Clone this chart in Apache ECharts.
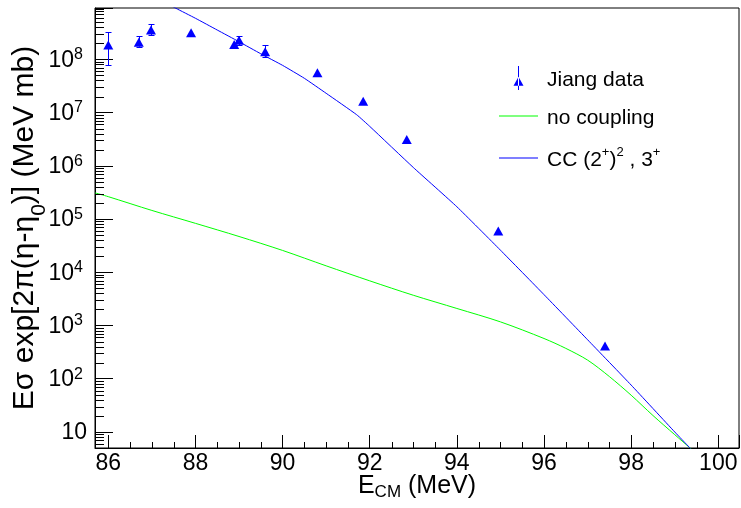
<!DOCTYPE html>
<html><head><meta charset="utf-8">
<script src="https://cdn.jsdelivr.net/npm/echarts@6/dist/echarts.min.js"></script>
<style>html,body{margin:0;padding:0;background:#fff}#c{width:741px;height:508px}</style>
</head><body><div id="c"></div>
<script>
// axis ranges
const xRange = [85.695, 100.475];
const yRange = [5, 9.2e8];

// Jiang data (E_CM in MeV, E*sigma*exp[...] in MeV mb)
const jiangE  = [86.0, 86.7, 86.98, 87.9, 88.89, 89.0, 89.6, 90.8, 91.85, 92.85, 94.95, 97.4];
const jiangY  = [1.86e8, 2.09e8, 3.56e8, 3.17e8, 1.9e8, 2.27e8, 1.39e8, 5.6e7, 1.63e7, 3.13e6, 5.93e4, 414];
const jiangLo = [7.8e7, 1.73e8, 2.83e8, null, null, 1.85e8, 1.12e8, null, null, null, null, null];
const jiangHi = [3.2e8, 2.74e8, 4.55e8, null, null, 2.72e8, 1.83e8, null, null, null, null, null];

// CC (2+)^2 , 3+ calculation
const ccE = [87.3, 87.55, 88.0, 88.5, 89.0, 89.5, 90.0, 90.5, 91.0, 91.7, 92.0, 93.0, 94.0, 95.0, 96.0, 97.0, 98.0, 99.0, 99.34, 99.6];
const ccY = [1.17e9, 9.1e8, 5.9e8, 3.55e8, 2.14e8, 1.27e8, 7.7e7, 4.4e7, 2.3e7, 9.1e6, 5.5e6, 9.3e5, 1.7e5, 2.6e4, 3.8e3, 540, 76, 10, 5.1, 3.0];

// no coupling calculation
const ncE = [85.695, 86.0, 87.0, 88.0, 89.0, 90.0, 91.0, 92.0, 93.0, 94.0, 95.0, 96.0, 96.5, 97.0, 97.5, 98.0, 98.5, 99.0, 99.34, 99.6];
const ncY = [3.1e5, 2.63e5, 1.45e5, 8.3e4, 4.7e4, 2.57e4, 1.32e4, 6.9e3, 3.7e3, 2.09e3, 1.17e3, 570, 372, 224, 110, 49, 20.4, 8.9, 5.1, 3.3];

// minor tick positions
const xMinorTicks = [86.5, 87, 87.5, 88.5, 89, 89.5, 90.5, 91, 91.5, 92.5, 93, 93.5, 94.5, 95, 95.5, 96.5, 97, 97.5, 98.5, 99, 99.5];
const yMinorMantissa = [2, 3, 4, 5, 6, 7, 8, 9];
const yDecades = [1, 10, 1e2, 1e3, 1e4, 1e5, 1e6, 1e7, 1e8];

const FONT = '"Liberation Sans", Arial, Helvetica, sans-serif';
const BLUE = '#0000ff', GREEN = '#00ff00';

const yMinor = [];
yDecades.forEach(d => yMinorMantissa.forEach(m => { const v = m * d; if (v > yRange[0] && v < yRange[1]) yMinor.push(v); }));

const errData = [];
jiangE.forEach((e, i) => { if (jiangLo[i] != null) errData.push([e, jiangY[i], jiangLo[i], jiangHi[i]]); });

const ccName = 'CC (2+)2 , 3+';
const lineIcon = 'path://M0,0L39,0L39,1L0,1Z';

const chart = echarts.init(document.getElementById('c'), null, {renderer: 'canvas'});
chart.setOption({
  animation: false,
  backgroundColor: '#fff',
  textStyle: {fontFamily: FONT},
  grid: {left: 95, top: 8, right: 2, bottom: 60, show: true, borderColor: '#000', borderWidth: 1, backgroundColor: 'transparent', containLabel: false, outerBoundsMode: 'none'},
  legend: {
    orient: 'vertical', left: 499, top: 66, padding: 0,
    itemWidth: 39, itemHeight: 24, itemGap: 17, symbolKeepAspect: true,
    data: [
      {name: 'Jiang data', icon: 'path://M9.5,0L10.5,0L10.5,24L9.5,24ZM5,19.7L15,19.7L10,10.7Z', itemStyle: {color: BLUE, opacity: 1}},
      {name: 'no coupling', icon: lineIcon, itemStyle: {color: GREEN}},
      {name: ccName, icon: lineIcon, itemStyle: {color: BLUE}}
    ],
    formatter: function (name) {
      if (name === ccName) return '{t|CC (2}{s|+}{t|)}{s|2}{t| , 3}{s|+}';
      return '{t|' + name + '}';
    },
    textStyle: {
      color: '#000', fontFamily: FONT, fontSize: 21, padding: [0, 0, 0, 4],
      rich: {
        t: {fontSize: 21, fontFamily: FONT, color: '#000', padding: [4, 0, 0, 0]},
        s: {fontSize: 13, fontFamily: FONT, color: '#000', verticalAlign: 'top'}
      }
    }
  },
  xAxis: {
    type: 'value', min: xRange[0], max: xRange[1], splitNumber: 7,
    name: '{e|E}{sub|CM}{e| (MeV)}', nameLocation: 'middle', nameGap: 24, nameMoveOverlap: false,
    nameTextStyle: {
      color: '#000', fontFamily: FONT, fontSize: 25,
      rich: {
        e: {fontSize: 25, fontFamily: FONT, color: '#000'},
        sub: {fontSize: 17, fontFamily: FONT, color: '#000', padding: [12, 0, 0, 0]}
      }
    },
    axisLine: {show: true, onZero: false, lineStyle: {color: '#000', width: 1}},
    axisTick: {show: true, inside: true, length: 13, lineStyle: {color: '#000', width: 1}},
    minorTick: {show: false},
    splitLine: {show: false},
    axisLabel: {
      color: '#000', fontFamily: FONT, fontSize: 23, margin: 4,
      showMinLabel: true, showMaxLabel: true,
      formatter: function (v) { return Math.abs(v - Math.round(v)) < 1e-6 ? String(Math.round(v)) : ''; }
    }
  },
  yAxis: {
    type: 'log', logBase: 10, min: yRange[0], max: yRange[1],
    name: '{e|Eσ exp[2π(η-η}{sub|0}{e|)] (MeV mb)}', nameLocation: 'middle', nameGap: 45, nameMoveOverlap: false,
    nameTextStyle: {
      color: '#000', fontFamily: FONT, fontSize: 30,
      rich: {
        e: {fontSize: 30, fontFamily: FONT, color: '#000'},
        sub: {fontSize: 21, fontFamily: FONT, color: '#000', padding: [30, 0, 0, 0]}
      }
    },
    axisLine: {show: true, onZero: false, lineStyle: {color: '#000', width: 1}},
    axisTick: {show: true, inside: true, length: 18, lineStyle: {color: '#000', width: 1}},
    minorTick: {show: false},
    splitLine: {show: false},
    axisLabel: {
      color: '#000', fontFamily: FONT, fontSize: 23, margin: 8,
      formatter: function (v) {
        const lg = Math.log10(v), n = Math.round(lg);
        if (Math.abs(lg - n) > 1e-6) return '';
        if (n === 1) return '{b|10}';
        if (n === 0) return '{b|1}';
        return '{b|10}{s|' + n + '}';
      },
      rich: {
        b: {fontSize: 23, fontFamily: FONT, color: '#000', padding: [2, 0, 0, 0]},
        s: {fontSize: 16, fontFamily: FONT, color: '#000', verticalAlign: 'top', padding: [0, 4, 0, 0]}
      }
    }
  },
  series: [
    {
      name: 'no coupling', type: 'line', data: ncE.map((e, i) => [e, ncY[i]]),
      showSymbol: false, symbol: 'none', smooth: 0.3, clip: true,
      lineStyle: {color: GREEN, width: 1}, itemStyle: {color: GREEN}, z: 2
    },
    {
      name: ccName, type: 'line', data: ccE.map((e, i) => [e, ccY[i]]),
      showSymbol: false, symbol: 'none', smooth: 0.15, clip: true,
      lineStyle: {color: BLUE, width: 1}, itemStyle: {color: BLUE}, z: 3
    },
    {
      name: 'Jiang data', type: 'custom', data: errData, encode: {x: 0, y: 1}, z: 4, silent: true,
      itemStyle: {color: BLUE},
      renderItem: function (params, api) {
        const lo = api.coord([api.value(0), api.value(2)]);
        const hi = api.coord([api.value(0), api.value(3)]);
        const cx = Math.round(lo[0]) + 0.5;
        const st = {stroke: BLUE, lineWidth: 1};
        return {type: 'group', children: [
          {type: 'line', shape: {x1: cx, y1: lo[1], x2: cx, y2: hi[1]}, style: st},
          {type: 'line', shape: {x1: cx - 3, y1: Math.round(lo[1]) + 0.5, x2: cx + 3, y2: Math.round(lo[1]) + 0.5}, style: st},
          {type: 'line', shape: {x1: cx - 3, y1: Math.round(hi[1]) + 0.5, x2: cx + 3, y2: Math.round(hi[1]) + 0.5}, style: st}
        ]};
      }
    },
    {
      name: 'Jiang data', type: 'scatter', data: jiangE.map((e, i) => [e, jiangY[i]]),
      symbol: 'triangle', symbolSize: [10, 9], itemStyle: {color: BLUE, opacity: 1}, z: 5
    },
    {
      name: 'yMinorTicks', type: 'custom', data: yMinor.map(v => [xRange[0], v]), encode: {x: 0, y: 1}, silent: true, z: 6,
      renderItem: function (params, api) {
        const p = api.coord([api.value(0), api.value(1)]);
        const y = Math.round(p[1]) + 0.5;
        return {type: 'line', shape: {x1: p[0], y1: y, x2: p[0] + 9, y2: y}, style: {stroke: '#000', lineWidth: 1}};
      }
    },
    {
      name: 'xMinorTicks', type: 'custom', data: xMinorTicks.map(v => [v, yRange[0]]), encode: {x: 0, y: 1}, silent: true, z: 6,
      renderItem: function (params, api) {
        const p = api.coord([api.value(0), api.value(1)]);
        const x = Math.round(p[0]) + 0.5;
        return {type: 'line', shape: {x1: x, y1: p[1], x2: x, y2: p[1] - 6}, style: {stroke: '#000', lineWidth: 1}};
      }
    }
  ]
});
</script>
</body></html>
